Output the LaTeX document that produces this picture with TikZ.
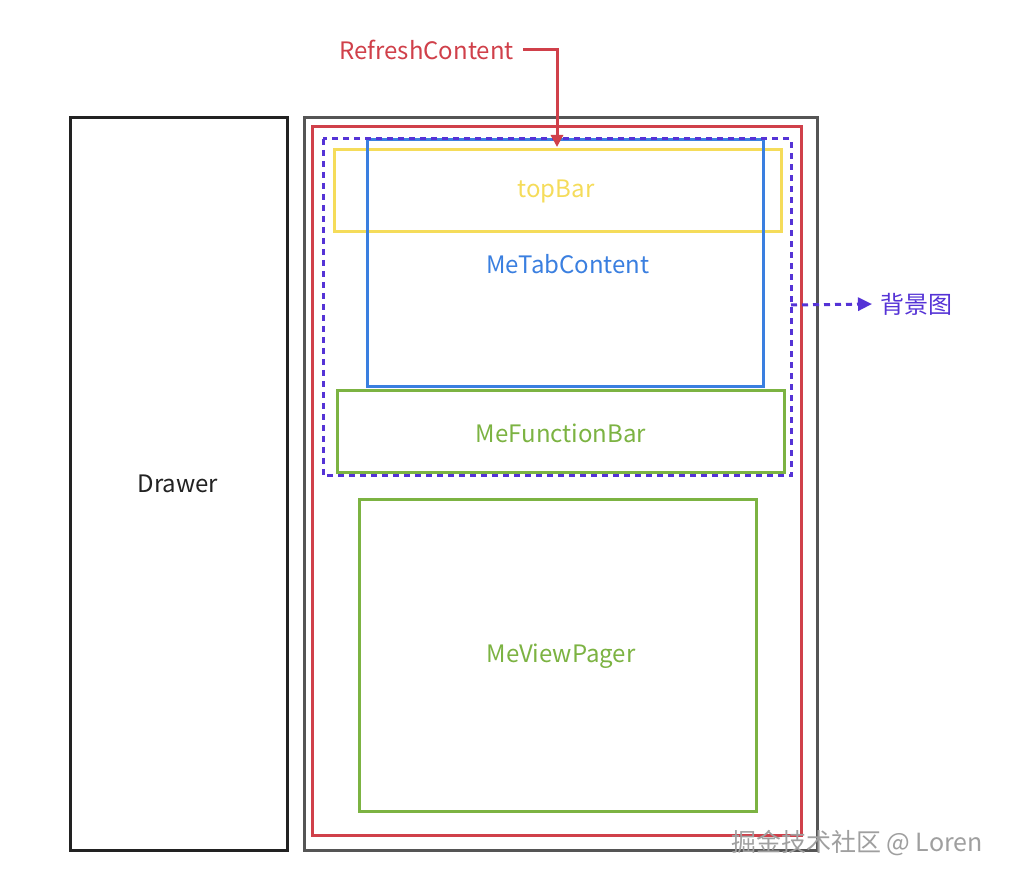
\documentclass[tikz,border=0pt]{standalone}
\usepackage{fontspec}
\setmainfont{Noto Sans CJK SC}
\usetikzlibrary{arrows.meta}
\definecolor{cdark}{HTML}{222222}
\definecolor{cgray}{HTML}{555555}
\definecolor{cred}{HTML}{D0404A}
\definecolor{cpurple}{HTML}{5533D6}
\definecolor{cyellow}{HTML}{F5DC5A}
\definecolor{cblue}{HTML}{3A7FE0}
\definecolor{cgreen}{HTML}{7CB342}
\begin{document}
\begin{tikzpicture}[x=1pt,y=-1pt,
  box/.style={draw,line width=3pt},
  lbl/.style={font=\fontsize{24}{28}\selectfont,inner sep=0pt,anchor=center}]
\useasboundingbox (0,0) rectangle (1010,882);
\fill[white] (0,0) rectangle (1010,882);
% boxes
\draw[box,cdark] (70,118) rectangle (287,850);
\node[lbl,text=cdark] (drawer) at (178,484) {Drawer};
\draw[box,cgray] (304,118) rectangle (817,850);
\draw[box,cred] (312,127) rectangle (801,835);
\draw[box,cyellow] (334,150) rectangle (781,232);
\draw[box,cblue] (367,140) rectangle (763,387);
\draw[box,cpurple,dash pattern=on 6pt off 5pt] (323,139) rectangle (791,476);
\draw[box,cgreen] (337,391) rectangle (784,473);
\draw[box,cgreen] (359,500) rectangle (756,811);
\node[lbl,text=cyellow] (topbar) at (556,191) {topBar};
\node[lbl,text=cblue] (tab) at (568,264) {MeTabContent};
\node[lbl,text=cgreen] (func) at (561,433) {MeFunctionBar};
\node[lbl,text=cgreen] (pager) at (561,656) {MeViewPager};
% refresh arrow
\node[lbl,text=cred,anchor=east] (refresh) at (514,50) {RefreshContent};
\coordinate (rtarget) at (557,147);
\draw[cred,line width=3pt,-{Triangle[length=12pt,width=12pt]}] ([xshift=9pt]refresh.east) -| (rtarget);
% background arrow
\coordinate (bgstart) at (791,305);
\node[lbl,text=cpurple,anchor=west] (bg) at (880,304) {背景图};
\draw[cpurple,line width=3pt,dash pattern=on 6pt off 5pt,-{Triangle[length=14pt,width=13pt]}] (bgstart) -- ([xshift=-8pt]bg.west);
% watermark
\node[lbl,text=gray!75,font=\fontsize{25}{29}\selectfont] (wm) at (857,843) {掘金技术社区 @ Loren};
\end{tikzpicture}
\end{document}
